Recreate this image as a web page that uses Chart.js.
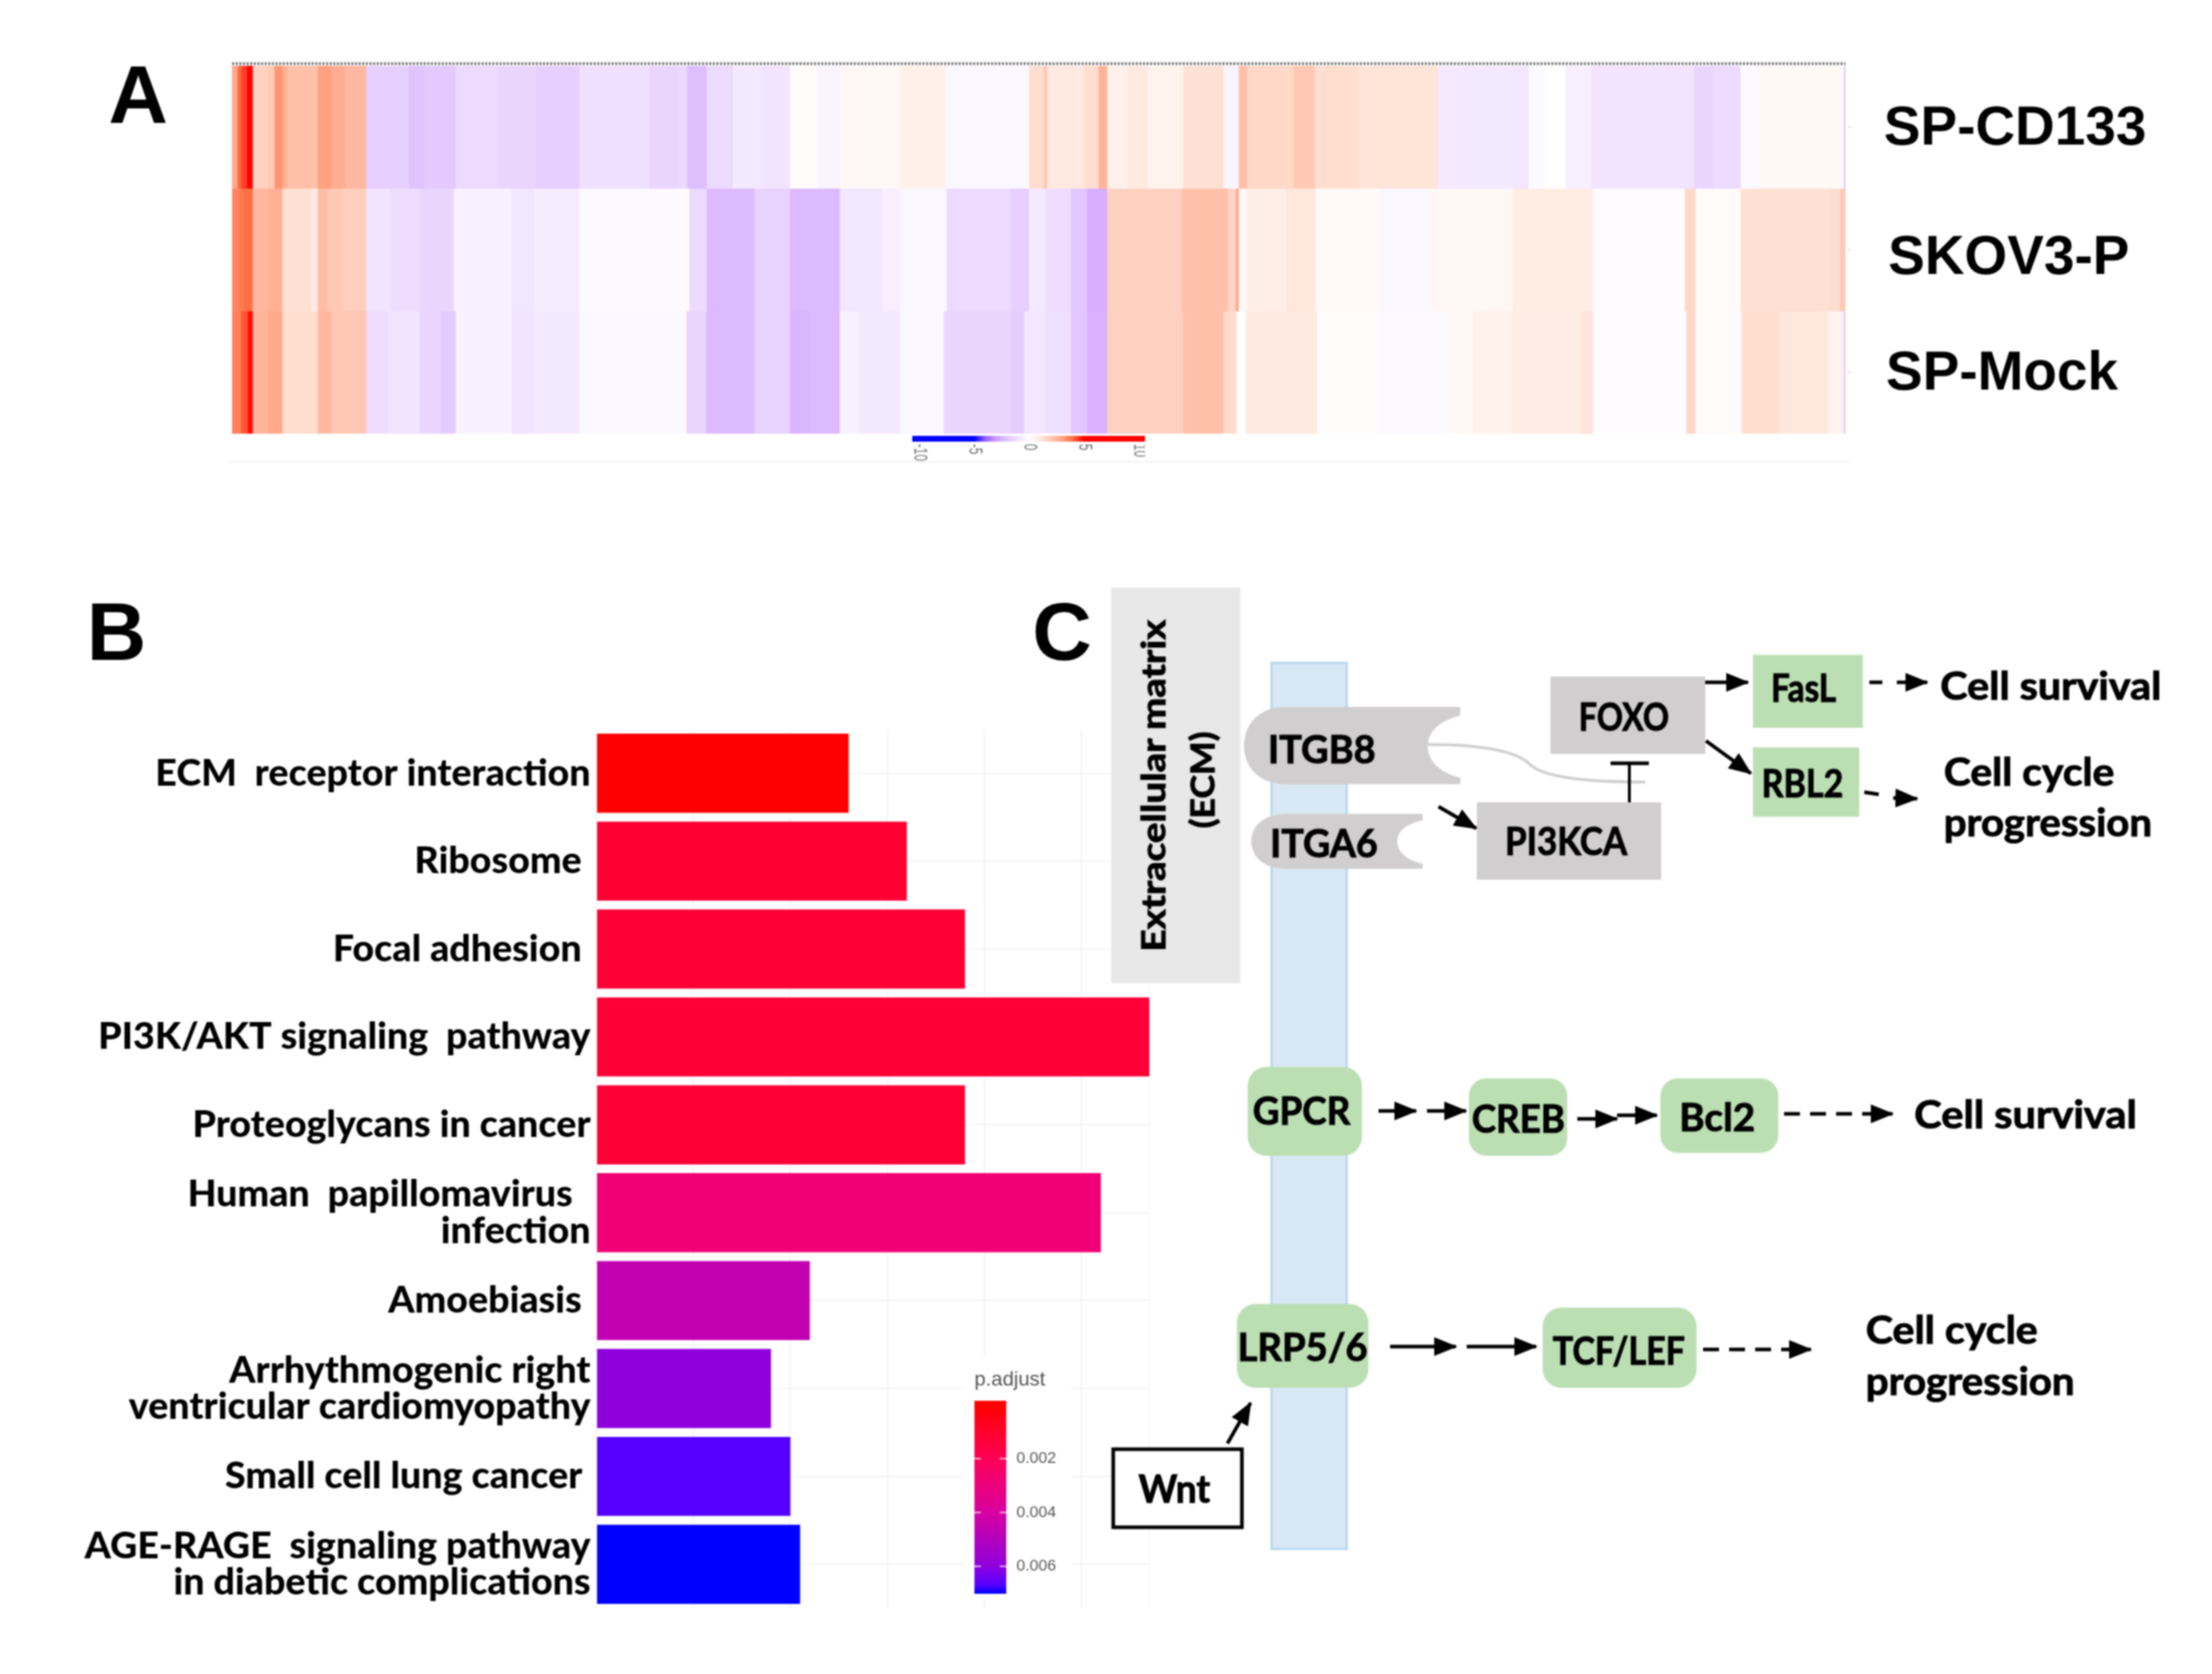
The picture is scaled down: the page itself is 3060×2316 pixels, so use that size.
<!DOCTYPE html>
<html>
<head>
<meta charset="utf-8">
<title>Figure</title>
<script src="https://cdn.jsdelivr.net/npm/chart.js@4"></script>
<style>
  html, body { margin: 0; padding: 0; background: #fff; }
  #page { position: relative; width: 3060px; height: 2316px; overflow: hidden; background: #fff; filter: blur(1px); }
  canvas { position: absolute; }
  #diagram { position: absolute; left: 0; top: 0; }
  #diagram text { font-family: Lato, sans-serif; font-weight: 700; fill: #000; stroke: #000; stroke-width: 1.2px; }
  #diagram .letter { font-family: "Liberation Sans", sans-serif; font-size: 114px; stroke-width: 0; }
  #diagram .legendTitle { font-family: "Liberation Sans", sans-serif; font-weight: 400; font-size: 28px; fill: #555; stroke-width: 0; }
  #diagram .gene { font-size: 53px; }
  #diagram .link { stroke: #000; stroke-width: 5; fill: none; }
</style>
</head>
<body>
<div id="page">
  <canvas id="barChart" width="1590" height="1216" style="left:0;top:1009px"></canvas>
  <canvas id="padjKey" width="149" height="335" style="left:1333px;top:1878px;background:#fff"></canvas>
  <canvas id="heatChart" width="2739" height="520" style="left:321px;top:80px"></canvas>
  <canvas id="heatKey" width="322" height="40" style="left:1262px;top:603px"></canvas>

  <svg id="diagram" width="3060" height="2316" viewBox="0 0 3060 2316">
    <defs>
      <marker id="head" markerUnits="userSpaceOnUse" markerWidth="32" markerHeight="26" refX="30" refY="13" orient="auto">
        <path d="M0,0 L32,13 L0,26 Z" fill="#000"></path>
      </marker>
    </defs>

    <text class="letter" x="150" y="170">A</text>
    <text class="letter" x="120" y="913">B</text>
    <text class="letter" x="1428" y="913">C</text>
    <line x1="316" y1="639" x2="2560" y2="639" stroke="#f2f2f2" stroke-width="2"></line>
    <text class="legendTitle" x="1348" y="1917">p.adjust</text>

    <rect x="1537" y="813" width="179" height="547" fill="#e8e8e8"></rect>
    <text font-size="46" text-anchor="middle" textLength="459" lengthAdjust="spacingAndGlyphs" transform="translate(1612,1087) rotate(-90)">Extracellular matrix</text>
    <text font-size="46" text-anchor="middle" textLength="134" lengthAdjust="spacingAndGlyphs" transform="translate(1680,1079) rotate(-90)">(ECM)</text>

    <rect x="1759" y="917" width="104" height="1226" fill="#d8e8f5" stroke="#b5d6ee" stroke-width="3"></rect>

    <path d="M1780,978 L2020,978 L2020,990 C1988,998 1975,1015 1975,1032 C1975,1050 1988,1068 2020,1076 L2020,1085 L1780,1085 C1738,1085 1721,1058 1721,1032 C1721,1005 1738,978 1780,978 Z" fill="#d0cece"></path>
    <path d="M1780,1126 L1968,1126 L1968,1135 C1945,1140 1933,1150 1933,1164 C1933,1178 1945,1190 1968,1195 L1968,1202 L1780,1202 C1748,1202 1731,1185 1731,1164 C1731,1143 1748,1126 1780,1126 Z" fill="#d0cece"></path>
    <text class="gene" x="1754" y="1056" textLength="149" lengthAdjust="spacingAndGlyphs">ITGB8</text>
    <text class="gene" x="1757" y="1186" textLength="149" lengthAdjust="spacingAndGlyphs">ITGA6</text>
    <path d="M1975,1030 C2030,1030 2095,1035 2117,1058 C2140,1080 2230,1082 2276,1082" fill="none" stroke="#cfcfcf" stroke-width="4"></path>

    <rect x="2145" y="936" width="214" height="107" fill="#d0cece"></rect>
    <text class="gene" x="2184" y="1011" textLength="125" lengthAdjust="spacingAndGlyphs">FOXO</text>
    <rect x="2043" y="1110" width="255" height="107" fill="#d0cece"></rect>
    <text class="gene" x="2082" y="1183" textLength="169" lengthAdjust="spacingAndGlyphs">PI3KCA</text>
    <line x1="2254" y1="1110" x2="2254" y2="1056" stroke="#000" stroke-width="4"></line>
    <line x1="2228" y1="1056" x2="2281" y2="1056" stroke="#000" stroke-width="5"></line>
    <line class="link" x1="1990" y1="1116" x2="2042" y2="1146" marker-end="url(#head)"></line>

    <rect x="2425" y="906" width="152" height="101" fill="#bbdfb3"></rect>
    <text class="gene" x="2450" y="971" textLength="90" lengthAdjust="spacingAndGlyphs">FasL</text>
    <rect x="2425" y="1034" width="147" height="96" fill="#bbdfb3"></rect>
    <text class="gene" x="2437" y="1103" textLength="113" lengthAdjust="spacingAndGlyphs">RBL2</text>
    <line class="link" x1="2359" y1="944" x2="2418" y2="944" marker-end="url(#head)"></line>
    <line class="link" x1="2360" y1="1025" x2="2422" y2="1070" marker-end="url(#head)"></line>
    <line class="link" x1="2586" y1="944" x2="2604" y2="944"></line>
    <line class="link" x1="2624" y1="944" x2="2666" y2="944" marker-end="url(#head)"></line>
    <line class="link" x1="2579" y1="1096" x2="2599" y2="1099"></line>
    <line class="link" x1="2619" y1="1104" x2="2652" y2="1105" marker-end="url(#head)"></line>
    <text class="gene" x="2684" y="968" textLength="306" lengthAdjust="spacingAndGlyphs">Cell survival</text>
    <text class="gene" x="2689" y="1087" textLength="236" lengthAdjust="spacingAndGlyphs">Cell cycle</text>
    <text class="gene" x="2689" y="1157" textLength="288" lengthAdjust="spacingAndGlyphs">progression</text>

    <rect x="1726" y="1476" width="158" height="123" rx="26" fill="#bbdfb3"></rect>
    <text class="gene" x="1733" y="1556" textLength="135" lengthAdjust="spacingAndGlyphs">GPCR</text>
    <rect x="2032" y="1492" width="136" height="107" rx="24" fill="#bbdfb3"></rect>
    <text class="gene" x="2036" y="1567" textLength="129" lengthAdjust="spacingAndGlyphs">CREB</text>
    <rect x="2297" y="1492" width="163" height="103" rx="24" fill="#bbdfb3"></rect>
    <text class="gene" x="2323" y="1565" textLength="105" lengthAdjust="spacingAndGlyphs">Bcl2</text>
    <line class="link" x1="1907" y1="1537" x2="1959" y2="1537" marker-end="url(#head)"></line>
    <line class="link" x1="1974" y1="1537" x2="2028" y2="1537" marker-end="url(#head)"></line>
    <line class="link" x1="2182" y1="1548" x2="2237" y2="1548" marker-end="url(#head)"></line>
    <line class="link" x1="2237" y1="1543" x2="2292" y2="1543" marker-end="url(#head)"></line>
    <line class="link" x1="2468" y1="1541" x2="2618" y2="1541" stroke-dasharray="22 14" marker-end="url(#head)"></line>
    <text class="gene" x="2648" y="1561" textLength="308" lengthAdjust="spacingAndGlyphs">Cell survival</text>

    <rect x="1711" y="1804" width="182" height="116" rx="26" fill="#bbdfb3"></rect>
    <text class="gene" x="1712" y="1883" textLength="180" lengthAdjust="spacingAndGlyphs">LRP5/6</text>
    <rect x="2134" y="1809" width="213" height="111" rx="26" fill="#bbdfb3"></rect>
    <text class="gene" x="2148" y="1888" textLength="183" lengthAdjust="spacingAndGlyphs">TCF/LEF</text>
    <line class="link" x1="1923" y1="1863" x2="2014" y2="1863" marker-end="url(#head)"></line>
    <line class="link" x1="2029" y1="1863" x2="2125" y2="1863" marker-end="url(#head)"></line>
    <line class="link" x1="2356" y1="1867" x2="2505" y2="1867" stroke-dasharray="22 14" marker-end="url(#head)"></line>
    <text class="gene" x="2581" y="1859" textLength="238" lengthAdjust="spacingAndGlyphs">Cell cycle</text>
    <text class="gene" x="2581" y="1930" textLength="289" lengthAdjust="spacingAndGlyphs">progression</text>

    <rect x="1540" y="2005" width="178" height="108" fill="#fff" stroke="#000" stroke-width="5"></rect>
    <text class="gene" x="1575" y="2079" textLength="99" lengthAdjust="spacingAndGlyphs">Wnt</text>
    <line class="link" x1="1698" y1="1997" x2="1730" y2="1941" marker-end="url(#head)"></line>
  </svg>
</div>

<script>
// panel A, log2 values per block of genes, blocks end at the given gene rank
var samples = ['SP-CD133', 'SKOV3-P', 'SP-Mock'];

var cd133Ends = [8,13,21,29,50,59,70,77,119,138,156,186,245,267,310,369,421,481,578,619,630,657,693,732,772,809,841,925,987,1103,1123,1128,1179,1199,1211,1239,1267,1316,1372,1393,1405,1469,1498,1558,1669,1772,1794,1816,1845,1881,2023,2049,2087,2112,2230,2232];
var cd133Values = [2.8,4,4.4,5,1.7,1.9,3.2,2.6,2.2,3,2.7,2.4,-1.7,-2.1,-1.9,-1.3,-1.5,-1.7,-1.1,-1.5,-1.3,-2.2,-1.3,-0.8,-1,0.1,-0.4,0.3,0.6,-0.3,1.3,2,0.9,1.3,2.5,0.6,0.9,0.5,1.2,-0.4,2.2,1.5,2,1.3,1.1,-0.8,-0.9,-0.2,0,-0.6,-1,-1.5,-1.3,-0.2,0.25,-2];

var skov3Ends = [10,16,29,50,70,109,119,132,152,186,219,260,307,387,418,481,623,633,657,723,772,798,841,899,925,989,1078,1103,1125,1161,1183,1211,1314,1378,1389,1393,1405,1459,1499,1587,1656,1772,1883,2010,2025,2087,2209,2225,2232];
var skov3Values = [3.5,3.7,3.9,2.4,2.6,1.2,0.9,2.3,2,1.8,-1,-1.2,-1.5,-0.5,-0.9,-0.7,-0.2,0.2,-1.3,-2.3,-1.6,-2.3,-2.3,-0.9,-0.6,-0.3,-1.3,-1.7,-0.8,-1.2,-2,-2.6,1.7,2.2,1.6,2.8,0.3,0.7,1,0.2,-0.3,0.35,0.8,-0.15,1.5,0.15,1.2,1.3,2];

var mockEnds = [13,22,29,50,70,119,138,186,216,260,289,310,387,418,481,629,656,723,772,798,841,867,925,985,1078,1096,1125,1161,1183,1211,1316,1372,1390,1403,1459,1501,1587,1680,1718,1770,1867,1883,2012,2025,2089,2139,2209,2230,2232];
var mockValues = [3.6,4.2,4.9,2.5,2.8,1.3,2.4,2,-1.2,-1,-1.5,-1.8,-0.5,-1,-0.8,-0.25,-1.5,-2.3,-1.6,-2.4,-2.3,-0.5,-0.8,-0.3,-1.5,-1.8,-0.9,-1.1,-2,-2.5,1.7,2.2,1.4,0,0.9,0.9,0.1,-0.2,0.3,0.55,0.75,1.1,-0.1,1.5,0.15,1.3,1,0.5,-2];

var geneTotal = 2232;
var heatKeyTicks = [-10, -5, 0, 5, 10];
var heatKeyRange = [-10.65, 10.55];

// panel B
var pathways = [
  'ECM  receptor interaction',
  'Ribosome\u00a0',
  'Focal adhesion\u00a0',
  'PI3K/AKT signaling  pathway',
  'Proteoglycans in cancer',
  ['Human  papillomavirus\u00a0\u00a0', 'infection'],
  'Amoebiasis\u00a0',
  ['Arrhythmogenic right', 'ventricular cardiomyopathy'],
  'Small cell lung cancer\u00a0',
  ['AGE-RAGE  signaling pathway', 'in diabetic complications']
];
var geneCounts = [26, 32, 38, 57, 38, 52, 22, 18, 20, 21];
var pAdjust = [0.00002, 0.00116, 0.00123, 0.00123, 0.00123, 0.0028, 0.0046, 0.006, 0.0067, 0.007];
var pAdjustTicks = [0.002, 0.004, 0.006];
var pAdjustRange = [-0.00015, 0.00702];

// colour ramps
var heatStops = [[-10,'#0000ff'],[-5,'#0000ff'],[-4,'#9a60ff'],[-3,'#d09cff'],[-2,'#e2c6ff'],[-1,'#f2e3ff'],[0,'#ffffff'],[1,'#ffe7dc'],[2,'#ffc8b4'],[3,'#ffa080'],[4,'#ff6a40'],[5,'#ff0000'],[10,'#ff0000']];
var padjStops = [[0,'#ff0000'],[0.002,'#ff0058'],[0.004,'#d800a0'],[0.006,'#9000dd'],[0.0067,'#5500ff'],[0.007,'#0000ff']];

function hexRgb(h) {
  return [parseInt(h.substr(1,2),16), parseInt(h.substr(3,2),16), parseInt(h.substr(5,2),16)];
}

function ramp(stops, v) {
  if (v <= stops[0][0]) return stops[0][1];
  for (var i = 1; i < stops.length; i++) {
    if (v <= stops[i][0]) {
      var t = (v - stops[i-1][0]) / (stops[i][0] - stops[i-1][0]);
      var a = hexRgb(stops[i-1][1]), b = hexRgb(stops[i][1]);
      return 'rgb(' + Math.round(a[0]+(b[0]-a[0])*t) + ',' + Math.round(a[1]+(b[1]-a[1])*t) + ',' + Math.round(a[2]+(b[2]-a[2])*t) + ')';
    }
  }
  return stops[stops.length-1][1];
}

function blocks(sample, ends) {
  return ends.map(function (e, i) {
    return { x: [i === 0 ? 0 : ends[i-1], e], y: sample };
  });
}

function heatDataset(sample, ends, values) {
  return {
    label: sample,
    data: blocks(sample, ends),
    backgroundColor: values.map(function (v) { return ramp(heatStops, v); }),
    borderWidth: 0,
    barPercentage: 1,
    categoryPercentage: 1,
    grouped: false
  };
}

// tick labels must not push the plot area away from the canvas edge
function noLabelOverhang(s) {
  s.paddingTop = 0;
  s.paddingBottom = 0;
}

Chart.defaults.animation = false;
Chart.defaults.responsive = false;
Chart.defaults.plugins.legend.display = false;
Chart.defaults.plugins.tooltip.enabled = false;

var sampleLabelX = [53, 59, 56];
var sampleLabelDy = [3, 13, 3];

var heatDecor = {
  id: 'heatDecor',
  afterDatasetsDraw: function (chart) {
    var c = chart.ctx, area = chart.chartArea, y = chart.scales.y;
    c.save();
    // the row of gene labels along the top, too small to read
    c.strokeStyle = '#808080';
    c.lineWidth = 4;
    c.setLineDash([3, 2]);
    c.beginPath();
    c.moveTo(area.left, area.top - 3);
    c.lineTo(area.right, area.top - 3);
    c.stroke();
    c.setLineDash([]);
    c.fillStyle = '#000';
    c.font = 'bold 76px "Liberation Sans"';
    c.textBaseline = 'middle';
    samples.forEach(function (s, i) {
      var py = y.getPixelForValue(i);
      c.strokeStyle = '#d8d8d8';
      c.lineWidth = 2;
      c.beginPath();
      c.moveTo(area.right + 4, py);
      c.lineTo(area.right + 7, py);
      c.stroke();
      c.fillText(s, area.right + sampleLabelX[i], py + sampleLabelDy[i]);
    });
    c.restore();
  }
};

new Chart(document.getElementById('heatChart'), {
  type: 'bar',
  data: {
    labels: samples,
    datasets: [
      heatDataset(samples[0], cd133Ends, cd133Values),
      heatDataset(samples[1], skov3Ends, skov3Values),
      heatDataset(samples[2], mockEnds, mockValues)
    ]
  },
  options: {
    indexAxis: 'y',
    layout: { padding: { left: 0, top: 11, right: 507, bottom: 0 } },
    scales: {
      x: { type: 'linear', min: 0, max: geneTotal, display: false },
      y: { type: 'category', display: false }
    }
  },
  plugins: [heatDecor]
});

var heatKeyLabels = {
  id: 'heatKeyLabels',
  afterDatasetsDraw: function (chart) {
    var c = chart.ctx, x = chart.scales.x, area = chart.chartArea;
    c.save();
    c.fillStyle = '#707070';
    c.font = '25px "Liberation Sans"';
    c.textAlign = 'left';
    c.textBaseline = 'middle';
    heatKeyTicks.forEach(function (t) {
      c.save();
      c.translate(x.getPixelForValue(t), area.bottom + 3);
      c.rotate(Math.PI / 2);
      c.scale(0.66, 1);
      c.fillText(String(t), 0, 0);
      c.restore();
    });
    c.restore();
  }
};

new Chart(document.getElementById('heatKey'), {
  type: 'bar',
  data: {
    labels: ['log2'],
    datasets: [{
      data: [heatKeyRange],
      barPercentage: 1,
      categoryPercentage: 1,
      backgroundColor: function (ctx) {
        var x = ctx.chart.scales.x;
        if (!x || !ctx.chart.chartArea) return '#fff';
        var g = ctx.chart.ctx.createLinearGradient(x.left, 0, x.right, 0);
        heatStops.forEach(function (s) {
          var p = (s[0] - x.min) / (x.max - x.min);
          if (p >= 0 && p <= 1) g.addColorStop(p, s[1]);
        });
        return g;
      }
    }]
  },
  options: {
    indexAxis: 'y',
    layout: { padding: { bottom: 32 } },
    scales: {
      x: { type: 'linear', min: heatKeyRange[0], max: heatKeyRange[1], display: false },
      y: { display: false }
    }
  },
  plugins: [heatKeyLabels]
});

new Chart(document.getElementById('barChart'), {
  type: 'bar',
  data: {
    labels: pathways,
    datasets: [{
      label: 'Count',
      data: geneCounts,
      backgroundColor: pAdjust.map(function (p) { return ramp(padjStops, p); }),
      borderWidth: 0,
      barPercentage: 0.9,
      categoryPercentage: 1
    }]
  },
  options: {
    indexAxis: 'y',
    scales: {
      x: {
        type: 'linear',
        min: 0,
        max: 57,
        ticks: { display: false, stepSize: 10 },
        border: { display: false },
        grid: { color: '#f3f3f3', lineWidth: 2, drawTicks: false }
      },
      y: {
        afterFit: function (s) { s.width = 825; noLabelOverhang(s); },
        border: { display: false },
        grid: { color: '#f3f3f3', lineWidth: 2, offset: false, drawTicks: false },
        ticks: {
          autoSkip: false,
          padding: 8,
          color: '#000',
          font: { family: 'Lato', weight: '900', size: 52, lineHeight: 0.97 }
        }
      }
    }
  }
});

var padjKeyTicks = {
  id: 'padjKeyTicks',
  afterDatasetsDraw: function (chart) {
    var c = chart.ctx, y = chart.scales.y, area = chart.chartArea;
    c.save();
    c.strokeStyle = 'rgba(255,255,255,0.75)';
    c.lineWidth = 2;
    pAdjustTicks.forEach(function (t) {
      var py = y.getPixelForValue(t);
      c.beginPath();
      c.moveTo(area.left, py);
      c.lineTo(area.left + 9, py);
      c.moveTo(area.right - 9, py);
      c.lineTo(area.right, py);
      c.stroke();
    });
    c.restore();
  }
};

new Chart(document.getElementById('padjKey'), {
  type: 'bar',
  data: {
    labels: ['p.adjust'],
    datasets: [{
      data: [pAdjustRange],
      barPercentage: 1,
      categoryPercentage: 1,
      backgroundColor: function (ctx) {
        var y = ctx.chart.scales.y;
        if (!y || !ctx.chart.chartArea) return '#fff';
        var g = ctx.chart.ctx.createLinearGradient(0, y.top, 0, y.bottom);
        padjStops.forEach(function (s) {
          var p = (s[0] - y.min) / (y.max - y.min);
          if (p >= 0 && p <= 1) g.addColorStop(p, s[1]);
        });
        return g;
      }
    }]
  },
  options: {
    layout: { padding: { left: 15, top: 60, right: 0, bottom: 8 } },
    scales: {
      x: { display: false },
      y: {
        position: 'right',
        reverse: true,
        min: pAdjustRange[0],
        max: pAdjustRange[1],
        afterFit: function (s) { s.width = 90; noLabelOverhang(s); },
        afterBuildTicks: function (s) {
          s.ticks = pAdjustTicks.map(function (v) { return { value: v }; });
        },
        border: { display: false },
        grid: { display: false, drawTicks: false },
        ticks: {
          padding: 14,
          color: '#555',
          font: { family: 'Liberation Sans', size: 22 },
          callback: function (v) { return v.toFixed(3); }
        }
      }
    }
  },
  plugins: [padjKeyTicks]
});
</script>
</body>
</html>
